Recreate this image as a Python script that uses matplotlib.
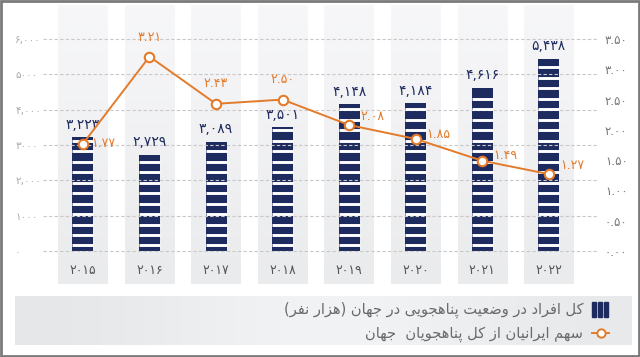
import matplotlib
matplotlib.use("Agg")
import matplotlib.pyplot as plt
import numpy as np
from matplotlib.colors import LinearSegmentedColormap
from matplotlib.patches import Rectangle

# data
years = ["۲۰۱۵", "۲۰۱۶", "۲۰۱۷", "۲۰۱۸", "۲۰۱۹", "۲۰۲۰", "۲۰۲۱", "۲۰۲۲"]
refugees = [3223, 2729, 3089, 3501, 4148, 4184, 4616, 5438]
iran_share = [1.77, 3.21, 2.43, 2.50, 2.08, 1.85, 1.49, 1.27]
left_ticks = [0, 1000, 2000, 3000, 4000, 5000, 6000]
left_labels = ["۰", "۱۰۰۰", "۲,۰۰۰", "۳۰۰۰", "۴,۰۰۰", "۵۰۰۰", "۶,۰۰۰"]
right_ticks = [0, 0.5, 1.0, 1.5, 2.0, 2.5, 3.0, 3.5]
legend_bar = "کل افراد در وضعیت پناهجویی در جهان (هزار نفر)"
legend_line = "سهم ایرانیان از کل پناهجویان  جهان"

# where each share label sits relative to its marker (points)
share_offsets = [(6, 0), (0, 9), (0, 10), (0, 10), (8, 6), (8, 3), (8, 4), (8, 6)]

FA = str.maketrans("0123456789", "۰۱۲۳۴۵۶۷۸۹")

# minimal persian shaping (isolated, final, initial, medial)
FORMS = {
    'ا': ('\uFE8D', '\uFE8E', None, None),
    'ئ': ('\uFE89', '\uFE8A', '\uFE8B', '\uFE8C'),
    'ت': ('\uFE95', '\uFE96', '\uFE97', '\uFE98'),
    'ج': ('\uFE9D', '\uFE9E', '\uFE9F', '\uFEA0'),
    'د': ('\uFEA9', '\uFEAA', None, None),
    'ر': ('\uFEAD', '\uFEAE', None, None),
    'ز': ('\uFEAF', '\uFEB0', None, None),
    'س': ('\uFEB1', '\uFEB2', '\uFEB3', '\uFEB4'),
    'ض': ('\uFEBD', '\uFEBE', '\uFEBF', '\uFEC0'),
    'ع': ('\uFEC9', '\uFECA', '\uFECB', '\uFECC'),
    'ف': ('\uFED1', '\uFED2', '\uFED3', '\uFED4'),
    'ل': ('\uFEDD', '\uFEDE', '\uFEDF', '\uFEE0'),
    'م': ('\uFEE1', '\uFEE2', '\uFEE3', '\uFEE4'),
    'ن': ('\uFEE5', '\uFEE6', '\uFEE7', '\uFEE8'),
    'ه': ('\uFEE9', '\uFEEA', '\uFEEB', '\uFEEC'),
    'و': ('\uFEED', '\uFEEE', None, None),
    'پ': ('\uFB56', '\uFB57', '\uFB58', '\uFB59'),
    'ک': ('\uFB8E', '\uFB8F', '\uFB90', '\uFB91'),
    'ی': ('\uFBFC', '\uFBFD', '\uFBFE', '\uFBFF'),
}


def rtl(text):
    out = []
    for i, c in enumerate(text):
        if c not in FORMS:
            out.append(c)
            continue
        prev = text[i - 1] if i > 0 else None
        nxt = text[i + 1] if i + 1 < len(text) else None
        jp = prev in FORMS and FORMS[prev][2] is not None
        jn = nxt in FORMS and FORMS[c][2] is not None
        iso, fin, ini, med = FORMS[c]
        if jp and jn:
            out.append(med)
        elif jp:
            out.append(fin)
        elif jn:
            out.append(ini)
        else:
            out.append(iso)
    return "".join(reversed(out)).translate(str.maketrans("()", ")("))


navy = "#1e2b5e"
orange = "#e37b2b"

W, H = 640, 357
fig = plt.figure(figsize=(W / 100, H / 100), dpi=100)
fig.patch.set_facecolor("white")

# pixel overlay for legend box and frame
ov = fig.add_axes([0, 0, 1, 1], zorder=0)
ov.set_xlim(0, W)
ov.set_ylim(H, 0)
ov.axis("off")
ov.patch.set_alpha(0)
grad = np.array([[0.0, 0.5, 1.0, 0.6, 0.15]])
gcmap = LinearSegmentedColormap.from_list("g", ["#e6e7e9", "#f4f5f6"])
ov.imshow(grad, cmap=gcmap, extent=(15, 632, 345, 296), aspect="auto",
          interpolation="bicubic", zorder=1)
ov.add_patch(Rectangle((1, 1), W - 2, H - 2, fill=False, edgecolor="#7a7a7a", lw=2, zorder=5))
# legend icons
for dx in (594, 600, 606):
    ov.add_patch(Rectangle((dx - 1.6, 302), 3.6, 15, color=navy, zorder=3))
ov.plot([592, 609], [333, 333], color=orange, lw=1.4, zorder=3)
ov.plot([600.5], [333], marker="o", ms=6, mfc="white", mec=orange, mew=1.4, zorder=4)
ov.text(583, 309.5, rtl(legend_bar), ha="right", va="center", fontsize=10.5, color="#6a6a6a", zorder=4)
ov.text(583, 334, rtl(legend_line), ha="right", va="center", fontsize=10.5, color="#6a6a6a", zorder=4)

# main axes
ax = fig.add_axes([43 / W, (H - 284) / H, (598 - 43) / W, 279 / H], zorder=2)
ax.patch.set_alpha(0)
ylo, yhi = -934, 6963
x = np.arange(len(years))

col_cmap = LinearSegmentedColormap.from_list("c", ["#f7f7f9", "#eaebed"])
colgrad = np.linspace(0, 1, 64).reshape(-1, 1)
cw = 0.74
for xi in x:
    ax.imshow(colgrad, cmap=col_cmap, extent=(xi - cw / 2, xi + cw / 2, ylo, yhi),
              aspect="auto", origin="upper", zorder=0)
ax.set_xlim(-0.6, 7.74)
ax.set_ylim(ylo, yhi)

ax.set_yticks(left_ticks)
ax.set_yticklabels(left_labels)
ax.grid(axis="y", color="#c8c8c8", linestyle=(0, (3, 2)), linewidth=0.8, zorder=1)
ax.set_axisbelow(False)
for s in ax.spines.values():
    s.set_visible(False)
ax.set_xticks([])
ax.tick_params(axis="y", length=0, pad=20, labelsize=7.5, labelcolor="#ababab")
for lbl in ax.get_yticklabels():
    lbl.set_horizontalalignment("left")

bw = 0.315
ax.bar(x, refugees, width=bw, color=navy, zorder=2)
# white stripes across bars
step = 297
for xi, v in zip(x, refugees):
    ys = np.arange(156, v - 60, step)
    ax.hlines(ys, xi - bw / 2, xi + bw / 2, colors="white", linewidth=2.1, zorder=3)
    ax.annotate(f"{v:,}".translate(FA), (xi, v), xytext=(0, 4), textcoords="offset points",
                ha="center", va="bottom", fontsize=10, color=navy)

for xi, yr in zip(x, years):
    ax.text(xi, -540, yr, ha="center", va="center", fontsize=9, color="#555555")

ax2 = ax.twinx()
ax2.set_zorder(3)
ax2.patch.set_alpha(0)
ax2.set_ylim(ylo * 3.5 / 6000, yhi * 3.5 / 6000)
ax2.set_yticks(right_ticks)
ax2.set_yticklabels([f"{t:.2f}".translate(FA) for t in right_ticks])
ax2.tick_params(axis="y", length=0, pad=5, labelsize=8.5, labelcolor="#777777")
for s in ax2.spines.values():
    s.set_visible(False)
ax2.plot(x, iran_share, color=orange, lw=1.4, marker="o", ms=6.8, mfc="white",
         mec=orange, mew=1.5, zorder=4)
for xi, v, off in zip(x, iran_share, share_offsets):
    ax2.annotate(f"{v:.2f}".translate(FA), (xi, v), xytext=off, textcoords="offset points",
                 ha="left" if off[0] else "center", va="center" if off[0] else "bottom",
                 fontsize=9, color=orange)

fig.savefig("out.png", dpi=100, facecolor="white")
